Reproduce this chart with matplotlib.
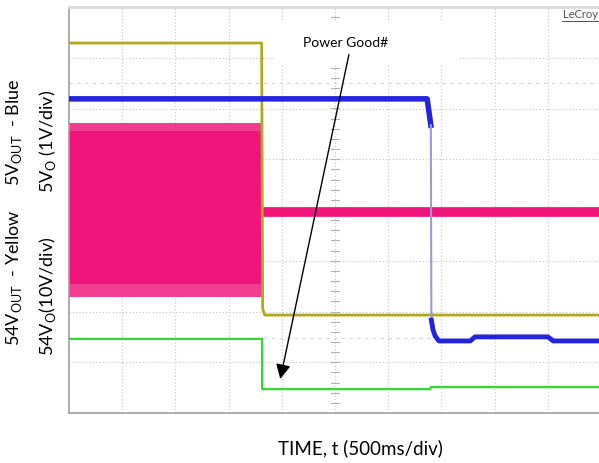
import numpy as np
import matplotlib.pyplot as plt
from matplotlib.patches import Rectangle

# scope capture: time in divisions (500 ms/div), level in divisions from screen bottom
plt.rcParams['font.family'] = ['Lato', 'DejaVu Sans']
plt.rcParams['mathtext.fontset'] = 'custom'
plt.rcParams['mathtext.rm'] = 'Lato'

yellow_t = [0, 3.62, 3.64, 3.68, 9.96]
yellow_v = [7.29, 7.29, 2.05, 1.93, 1.93]

blue_t = [0, 6.73, 6.80, 6.81, 6.84, 6.88, 6.95, 7.54, 7.63, 9.00, 9.10, 9.96]
blue_v = [6.19, 6.19, 5.67, 1.83, 1.64, 1.52, 1.42, 1.42, 1.50, 1.50, 1.42, 1.42]

# switching burst envelope, then steady level
pink_burst_t = [0, 3.63]
pink_outer = [5.71, 2.29]
pink_inner = [5.55, 2.55]
pink_t = [3.63, 9.96]
pink_v = [3.97, 3.97]

green_t = [0, 3.63, 3.63, 6.79, 6.80, 9.96]
green_v = [1.46, 1.46, 0.47, 0.47, 0.51, 0.51]

# faint reference ghosts on screen
ghost1_t = [0, 9.96]
ghost1_v = [6.50, 6.50]
ghost2_t = [0, 6.8]
ghost2_v = [1.48, 1.48]

YELLOW = '#b2a81c'
BLUE = '#2424dc'
PINK = '#f0147c'
GREEN = '#30d830'


def draw_grid(ax):
    for x in range(1, 10):
        ax.axvline(x, color='#c4c4c4', lw=0.8, ls=(0, (1, 2)), zorder=1)
    for y in range(1, 8):
        ax.axhline(y, color='#c4c4c4', lw=0.8, ls=(0, (1, 2)), zorder=1)
    # minor marks on the centre cross
    for y in np.arange(0.2, 8, 0.2):
        ax.plot([4.93, 5.07], [y, y], color='#b0b0b0', lw=0.8, zorder=1)
    for x in np.arange(0.2, 10, 0.2):
        ax.plot([x, x], [3.94, 4.06], color='#b0b0b0', lw=0.8, zorder=1)


def main():
    fig = plt.figure(figsize=(5.99, 4.63), dpi=100)
    ax = fig.add_axes([69 / 599, 1 - 413 / 463, 530 / 599, 406 / 463])
    ax.set_xlim(0, 9.96)
    ax.set_ylim(0, 8)
    ax.set_xticks([])
    ax.set_yticks([])
    for s in ['left', 'bottom']:
        ax.spines[s].set_color('#a0a0a0')
        ax.spines[s].set_linewidth(1.2)
    ax.spines['right'].set_visible(False)
    ax.spines['top'].set_color('#dcdcdc')
    ax.spines['top'].set_linewidth(2)

    draw_grid(ax)
    ax.plot(ghost1_t, ghost1_v, color='#d4d4d4', lw=0.8, ls=(0, (3, 4)), zorder=1)
    ax.plot(ghost2_t, ghost2_v, color='#d4d4d4', lw=0.8, ls=(0, (3, 4)), zorder=1)

    # blank box behind the annotation
    ax.add_patch(Rectangle((3.87, 6.90), 3.44, 0.80, color='white', zorder=1.5))

    ax.fill_between(pink_burst_t, pink_outer[1], pink_outer[0], color='#f23d92', lw=0, zorder=2)
    ax.fill_between(pink_burst_t, pink_inner[1], pink_inner[0], color=PINK, lw=0, zorder=2)
    ax.plot(pink_t, pink_v, color=PINK, lw=7, solid_capstyle='butt', zorder=2)

    ax.plot(yellow_t, yellow_v, color=YELLOW, lw=2, zorder=3)
    ax.plot(green_t, green_v, color=GREEN, lw=1.6, zorder=3)

    ax.plot(blue_t[:3], blue_v[:3], color=BLUE, lw=4, zorder=4)
    ax.plot(blue_t[2:4], blue_v[2:4], color='#9a9ad8', lw=1.5, zorder=4)
    ax.plot(blue_t[3:], blue_v[3:], color=BLUE, lw=3.5, zorder=4)

    ax.text(5.19, 7.29, 'Power Good#', fontsize=10, ha='center', va='center', zorder=5)
    ax.annotate('', xy=(3.97, 0.67), xytext=(5.26, 7.06),
                arrowprops=dict(arrowstyle='-|>', color='black', lw=1,
                                mutation_scale=22, shrinkA=0, shrinkB=0), zorder=5)

    fig.text(580 / 599, 1 - 15 / 463, 'LeCroy', fontsize=8, color='#505050',
             ha='center', va='center')
    fig.add_artist(plt.Line2D([562 / 599, 598 / 599], [1 - 21 / 463, 1 - 21 / 463],
                              color='#505050', lw=0.7))

    fig.text(360 / 599, 1 - 448 / 463, 'TIME, t (500ms/div)', fontsize=13.5,
             ha='center', va='center')
    fig.text(14 / 599, 1 - 132 / 463, r'5V$_\mathrm{OUT}$  - Blue', fontsize=13,
             rotation=90, ha='center', va='center')
    fig.text(14 / 599, 1 - 278 / 463, r'54V$_\mathrm{OUT}$  - Yellow', fontsize=13,
             rotation=90, ha='center', va='center')
    fig.text(48 / 599, 1 - 141 / 463, r'5V$_\mathrm{O}$ (1V/div)', fontsize=13,
             rotation=90, ha='center', va='center')
    fig.text(48 / 599, 1 - 296 / 463, r'54V$_\mathrm{O}$(10V/div)', fontsize=13,
             rotation=90, ha='center', va='center')

    fig.savefig('out.png', dpi=100)


if __name__ == '__main__':
    main()
